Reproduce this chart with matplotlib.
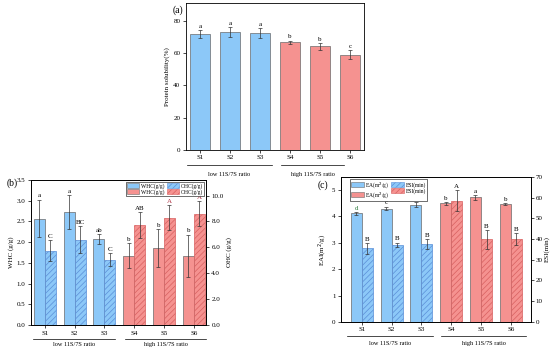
import matplotlib
matplotlib.use("Agg")
import matplotlib.pyplot as plt
import matplotlib.transforms as mtransforms
from matplotlib.patches import Patch
import numpy as np

plt.rcParams['font.family'] = ['Liberation Serif', 'DejaVu Serif']
plt.rcParams['font.size'] = 5
plt.rcParams['hatch.linewidth'] = 0.5
plt.rcParams['axes.linewidth'] = 0.6

samples = ['S1', 'S2', 'S3', 'S4', 'S5', 'S6']

# (a) protein solubility
sol = [71.5, 73.0, 72.5, 66.5, 64.0, 59.0]
sol_err = [2.5, 3.0, 3.0, 1.0, 2.0, 2.5]
sol_lab = ['a', 'a', 'a', 'b', 'b', 'c']

# (b) WHC / OHC
whc = [2.57, 2.73, 2.07, 1.67, 1.86, 1.67]
whc_err = [0.45, 0.40, 0.12, 0.30, 0.45, 0.50]
whc_lab = ['a', 'a', 'ab', 'b', 'b', 'b']
ohc = [5.75, 6.6, 5.05, 7.7, 8.3, 8.6]
ohc_err = [0.8, 1.05, 0.5, 1.0, 0.95, 0.95]
ohc_lab = ['C', 'BC', 'C', 'AB', 'A', 'A']

# (c) EA / ESI
ea = [4.12, 4.30, 4.45, 4.50, 4.72, 4.48]
ea_err = [0.05, 0.07, 0.10, 0.05, 0.10, 0.03]
ea_lab = ['d', 'c', 'b', 'b', 'a', 'b']
esi = [35.5, 37.3, 37.5, 58.5, 39.8, 40.0]
esi_err = [2.5, 1.0, 2.5, 5.0, 4.5, 3.0]
esi_lab = ['B', 'B', 'B', 'A', 'B', 'B']

blue = '#8cc8f8'
red = '#f59290'
blue_h = '#5a8fd8'
red_h = '#d86060'
cols = [blue] * 3 + [red] * 3
hcols = [blue_h] * 3 + [red_h] * 3
edge = '#6a6a6a'
ekw = dict(ecolor='#333333', elinewidth=0.5, capsize=1.5, capthick=0.5)

fig = plt.figure(figsize=(5.5, 3.51), dpi=100)
x = np.arange(6)


def groups(ax, yline, ytext, low, high):
    tr = mtransforms.blended_transform_factory(ax.transData, ax.transAxes)
    for (a, b), name in zip([low, high], ['low 11S/7S ratio', 'high 11S/7S ratio']):
        ax.plot([a, b], [yline, yline], color='black', lw=0.5, transform=tr, clip_on=False)
        ax.text((a + b) / 2, ytext, name, transform=tr, ha='center', va='center', fontsize=4.5)


def ticks(ax):
    ax.set_xticks(x)
    ax.set_xticklabels(samples, fontsize=5.5)
    ax.tick_params(length=2, width=0.5, pad=2, labelsize=5)


def legend(ax, labels, loc, anchor):
    hb = [Patch(facecolor=blue, edgecolor=edge, lw=0.4), Patch(facecolor=red, edgecolor=edge, lw=0.4),
          Patch(facecolor=blue, edgecolor=blue_h, lw=0.4, hatch='//////'),
          Patch(facecolor=red, edgecolor=red_h, lw=0.4, hatch='//////')]
    lg = ax.legend(hb, labels, ncol=2, loc=loc, bbox_to_anchor=anchor,
                   fontsize=4, frameon=True, fancybox=False, edgecolor='black', framealpha=1,
                   handlelength=2.2, handleheight=0.9, columnspacing=0.4, handletextpad=0.3,
                   borderpad=0.2, labelspacing=0.1, borderaxespad=0.3)
    lg.get_frame().set_linewidth(0.4)


# ---- (a)
axa = fig.add_axes([0.338, 0.573, 0.324, 0.419])
axa.bar(x, sol, 0.68, color=cols, edgecolor=edge, linewidth=0.5)
axa.errorbar(x, sol, yerr=sol_err, fmt='none', **ekw)
for i in range(6):
    axa.text(x[i], sol[i] + sol_err[i] + 0.8, sol_lab[i], ha='center', va='bottom', fontsize=5)
axa.set_xlim(-0.47, 5.47)
axa.set_ylim(0, 91)
axa.set_yticks([0, 20, 40, 60, 80])
axa.set_ylabel('Protein solubility(%)', fontsize=5, labelpad=2)
ticks(axa)
groups(axa, -0.1, -0.17, (-0.45, 2.4), (2.7, 4.8))
fig.text(0.313, 0.963, '(a)', fontsize=7)

# ---- (b)
w = 0.37
axb = fig.add_axes([0.056, 0.074, 0.318, 0.413])
axb.bar(x - w / 2, whc, w, color=cols, edgecolor=edge, linewidth=0.5)
axb.errorbar(x - w / 2, whc, yerr=whc_err, fmt='none', **ekw)
for i in range(6):
    axb.text(x[i] - w / 2, whc[i] + whc_err[i] + 0.04, whc_lab[i], ha='center', va='bottom', fontsize=5)
axb.set_xlim(-0.47, 5.4)
axb.set_ylim(0, 3.5)
axb.set_yticks(np.arange(0, 3.51, 0.5))
axb.set_yticklabels(['%.1f' % v for v in np.arange(0, 3.51, 0.5)])
axb.set_ylabel('WHC (g/g)', fontsize=5, labelpad=2)
ticks(axb)
axb2 = axb.twinx()
axb2.bar(x + w / 2, ohc, w, color=cols, edgecolor=hcols, linewidth=0.5, hatch='//////')
axb2.errorbar(x + w / 2, ohc, yerr=ohc_err, fmt='none', **ekw)
for i in range(6):
    axb2.text(x[i] + w / 2, ohc[i] + ohc_err[i] + 0.1, ohc_lab[i], ha='center', va='bottom', fontsize=5,
              color='#b03040' if i >= 4 else 'black')
axb2.set_ylim(0, 11.2)
axb2.set_yticks(np.arange(0, 10.1, 2))
axb2.set_yticklabels(['%.1f' % v for v in np.arange(0, 10.1, 2)])
axb2.set_ylabel('OHC (g/g)', fontsize=5, labelpad=2)
axb2.tick_params(length=2, width=0.5, pad=2, labelsize=5)
legend(axb2, ['WHC(g/g)', 'WHC(g/g)', 'OHC(g/g)', 'OHC(g/g)'], 'upper right', (1, 1))
groups(axb, -0.097, -0.135, (-0.4, 2.37), (2.7, 5.4))
fig.text(0.012, 0.47, '(b)', fontsize=7)

# ---- (c)
axc = fig.add_axes([0.62, 0.083, 0.345, 0.413])
axc.bar(x - w / 2, ea, w, color=cols, edgecolor=edge, linewidth=0.5)
axc.errorbar(x - w / 2, ea, yerr=ea_err, fmt='none', **ekw)
for i in range(6):
    axc.text(x[i] - w / 2, ea[i] + ea_err[i] + 0.05, ea_lab[i], ha='center', va='bottom', fontsize=5,
             color='#2a7a3a' if i == 0 else 'black')
axc.set_xlim(-0.7, 5.67)
axc.set_ylim(0, 5.5)
axc.set_yticks(range(6))
axc.set_ylabel('EAI(m$^2$/g)', fontsize=5, labelpad=2)
ticks(axc)
axc2 = axc.twinx()
axc2.bar(x + w / 2, esi, w, color=cols, edgecolor=hcols, linewidth=0.5, hatch='//////')
axc2.errorbar(x + w / 2, esi, yerr=esi_err, fmt='none', **ekw)
for i in range(6):
    axc2.text(x[i] + w / 2, esi[i] + esi_err[i] + 0.6, esi_lab[i], ha='center', va='bottom', fontsize=5)
axc2.set_ylim(0, 70)
axc2.set_yticks(range(0, 71, 10))
axc2.set_ylabel('ESI(min)', fontsize=5, labelpad=1)
axc2.tick_params(length=2, width=0.5, pad=1.5, labelsize=5)
legend(axc2, ['EA(m$^2$/g)', 'EA(m$^2$/g)', 'ESI(min)', 'ESI(min)'], 'upper left', (0.04, 1))
groups(axc, -0.097, -0.15, (-0.5, 2.4), (2.67, 5.5))
fig.text(0.577, 0.465, '(c)', fontsize=7)

fig.savefig('out.png', dpi=100)
